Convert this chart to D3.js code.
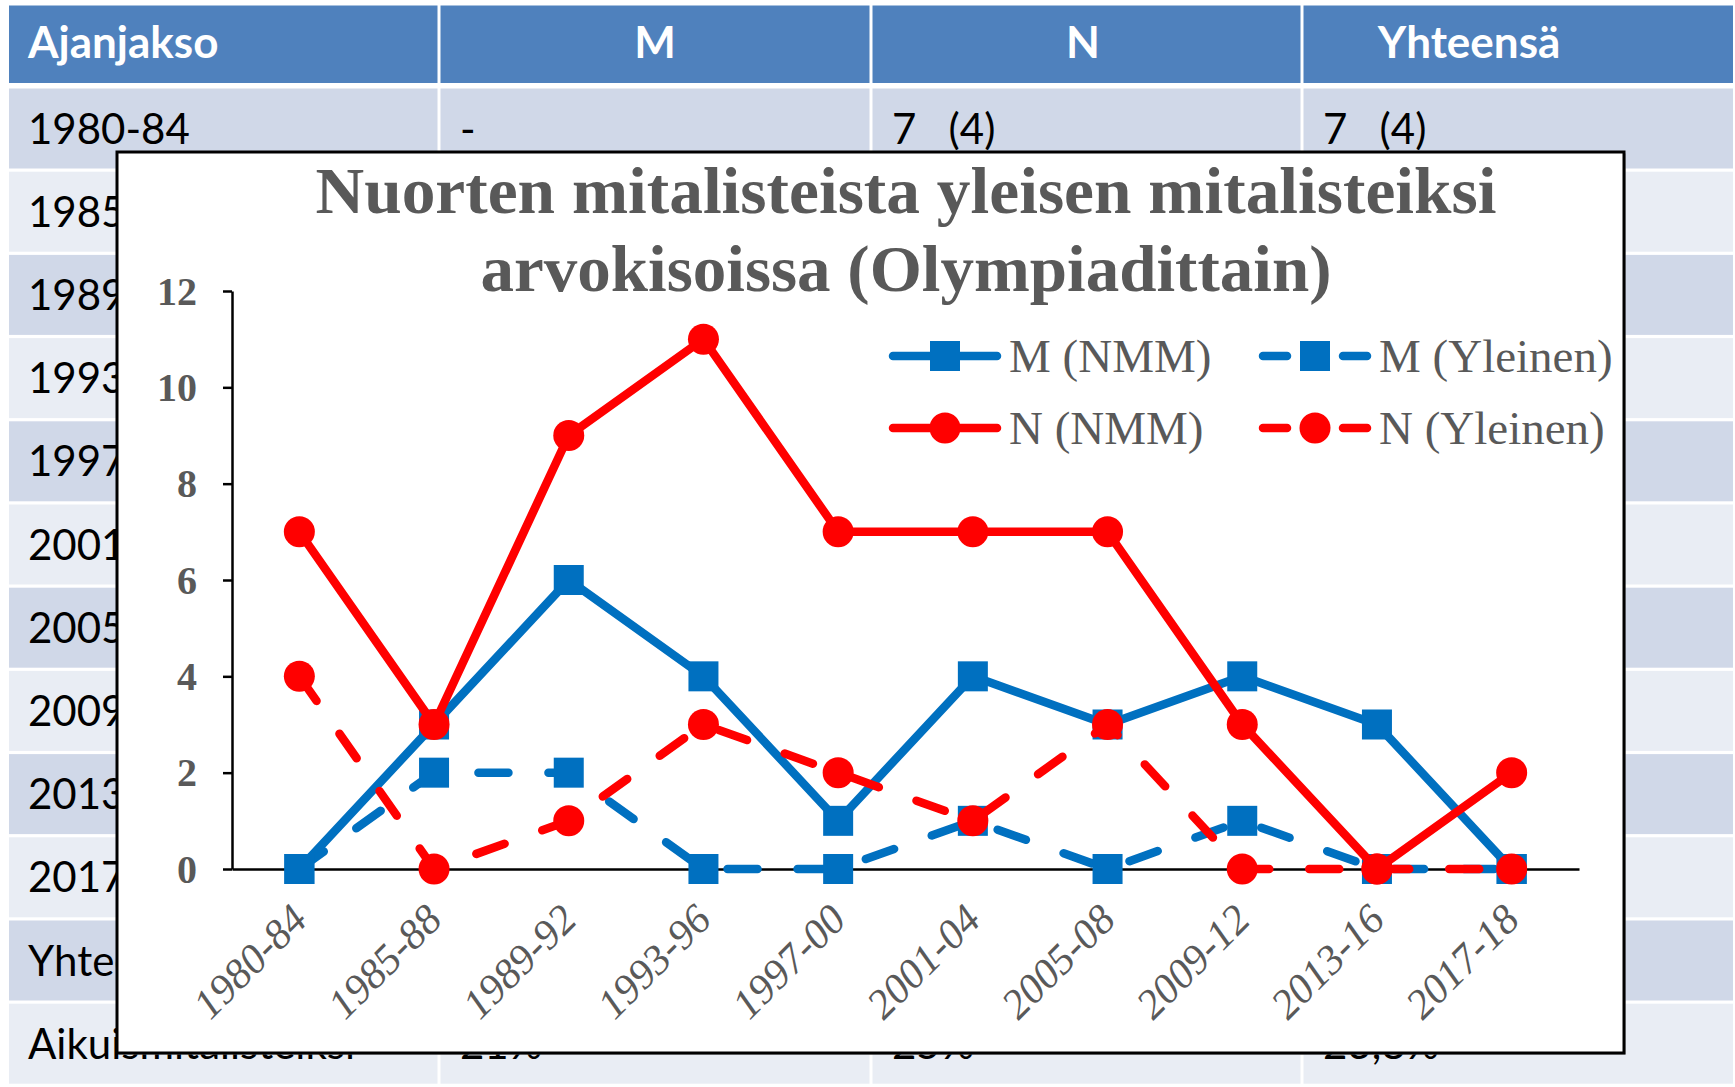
<!DOCTYPE html>
<html>
<head>
<meta charset="utf-8">
<script src="https://cdn.jsdelivr.net/npm/d3@7"></script>
<style>
  html, body { margin: 0; padding: 0; background: #ffffff; }
  svg { display: block; }
  text { white-space: pre; }
</style>
</head>
<body>
<svg id="chart" width="1735" height="1087"></svg>
<script>
// ---------- data ----------
const categories = ["1980-84","1985-88","1989-92","1993-96","1997-00","2001-04","2005-08","2009-12","2013-16","2017-18"];
const mNMM      = [0, 3, 6, 4, 1, 4, 3, 4, 3, 0];
const mYleinen  = [0, 2, 2, 0, 0, 1, 0, 1, 0, 0];
const nNMM      = [7, 3, 9, 11, 7, 7, 7, 3, 0, 2];
const nYleinen  = [4, 0, 1, 3, 2, 1, 3, 0, 0, 0];
const seriesNames = ["M (NMM)", "M (Yleinen)", "N (NMM)", "N (Yleinen)"];
const yTicks = [0, 2, 4, 6, 8, 10, 12];
const titleLines = ["Nuorten mitalisteista yleisen mitalisteiksi", "arvokisoissa (Olympiadittain)"];

// background table (slide behind the chart)
const tableHeader = ["Ajanjakso", "M", "N", "Yhteensä"];
const tableFirstCol = ["1980-84","1985-88","1989-92","1993-96","1997-00","2001-04","2005-08","2009-12","2013-16","2017-18","Yhteensä","Aikuismitalisteiksi"];
const tableRow1 = ["-", "7   (4)", "7   (4)"];
const tableLastRow = ["21%", "25%", "23,8%"];

// ---------- drawing ----------
const svg = d3.select("#chart");
svg.append("rect").attr("width", 1735).attr("height", 1087).attr("fill", "#ffffff");

// table
const colX = [9, 439, 871, 1302, 1733];
const headerCenters = [null, 655, 1083, 1469];
const tbl = svg.append("g");
const headerTop = 5.5, headerBottom = 83;
const tableFont = "Lato, 'Open Sans', sans-serif";
for (let c = 0; c < 4; c++) {
  tbl.append("rect")
    .attr("x", colX[c] + (c ? 1.5 : 0)).attr("y", headerTop)
    .attr("width", colX[c+1] - colX[c] - (c ? 1.5 : 0) - (c < 3 ? 1.5 : 0))
    .attr("height", headerBottom - headerTop)
    .attr("fill", "#4F81BD");
}
const rowTop0 = 88.5, rowPitch = 83.2, rowH = 80;
tableFirstCol.forEach((lab, i) => {
  const yy = rowTop0 + i * rowPitch;
  for (let c = 0; c < 4; c++) {
    tbl.append("rect")
      .attr("x", colX[c] + (c ? 1.5 : 0)).attr("y", yy)
      .attr("width", colX[c+1] - colX[c] - (c ? 1.5 : 0) - (c < 3 ? 1.5 : 0))
      .attr("height", rowH)
      .attr("fill", i % 2 === 0 ? "#D0D8E8" : "#E9EDF4");
  }
  tbl.append("text").attr("x", 28).attr("y", yy + 55)
    .attr("font-family", tableFont).attr("font-size", 42)
    .attr("fill", "#000").text(lab);
});
tableHeader.forEach((h, c) => {
  const t = tbl.append("text")
    .attr("y", 58)
    .attr("font-family", tableFont).attr("font-weight", "bold")
    .attr("font-size", 44).attr("fill", "#ffffff").text(h);
  if (c === 0) t.attr("x", 28);
  else t.attr("x", headerCenters[c]).attr("text-anchor", "middle");
});
tableRow1.forEach((v, c) => {
  tbl.append("text").attr("x", colX[c+1] + 21).attr("y", rowTop0 + 55)
    .attr("font-family", tableFont).attr("font-size", 42)
    .attr("fill", "#000").text(v);
});
tableLastRow.forEach((v, c) => {
  tbl.append("text").attr("x", colX[c+1] + 21).attr("y", rowTop0 + 11 * rowPitch + 55)
    .attr("font-family", tableFont).attr("font-size", 42)
    .attr("fill", "#000").text(v);
});

// chart box
const box = {x: 117, y: 152, w: 1507, h: 901};
svg.append("rect").attr("x", box.x + 1.5).attr("y", box.y + 1.5).attr("width", box.w).attr("height", box.h)
  .attr("fill", "#8c8c8c");
svg.append("rect").attr("x", box.x).attr("y", box.y).attr("width", box.w).attr("height", box.h)
  .attr("fill", "#ffffff").attr("stroke", "#000").attr("stroke-width", 3);

// title
const titleFont = "'Liberation Serif', 'Times New Roman', serif";
const titleSpecs = [{y: 213, len: 1181}, {y: 291, len: 851}];
titleLines.forEach((t, i) => {
  svg.append("text").attr("x", 906).attr("y", titleSpecs[i].y)
    .attr("text-anchor", "middle")
    .attr("font-family", titleFont).attr("font-weight", "bold").attr("font-size", 66)
    .attr("fill", "#595959")
    .attr("textLength", titleSpecs[i].len).attr("lengthAdjust", "spacingAndGlyphs")
    .text(t);
});

// scales
const x = d3.scaleBand().domain(categories).range([232, 1579]);
const cx = d => x(d) + x.bandwidth() / 2;
const y = d3.scaleLinear().domain([0, 12]).range([869, 291]);

// y axis
const yAxis = svg.append("g").attr("transform", "translate(232,0)")
  .call(d3.axisLeft(y).tickValues(yTicks).tickSize(9).tickSizeOuter(0).tickFormat(d3.format("d")));
yAxis.select(".domain").attr("stroke", "#000").attr("stroke-width", 2.5);
yAxis.selectAll(".tick line").attr("stroke", "#000").attr("stroke-width", 2.5);
yAxis.selectAll(".tick text")
  .attr("x", -35).attr("dy", "0.33em")
  .attr("font-family", titleFont).attr("font-weight", "bold").attr("font-size", 40)
  .attr("fill", "#595959");

// x axis
const xAxis = svg.append("g").attr("transform", "translate(0,869)")
  .call(d3.axisBottom(x).tickSize(0).tickSizeOuter(0));
xAxis.select(".domain").attr("stroke", "#000").attr("stroke-width", 2.5);
xAxis.selectAll(".tick text")
  .attr("x", 0).attr("y", 0).attr("dy", 0)
  .attr("text-anchor", "end")
  .attr("transform", "translate(10,53) rotate(-45)")
  .attr("font-family", titleFont).attr("font-style", "italic").attr("font-size", 42)
  .attr("fill", "#595959");

// series
const BLUE = "#0070C0", RED = "#FF0000";
const LW = 8.5;
const series = [
  {name: seriesNames[0], vals: mNMM,     color: BLUE, dash: null,    marker: "square"},
  {name: seriesNames[1], vals: mYleinen, color: BLUE, dash: "30,40", marker: "square"},
  {name: seriesNames[2], vals: nNMM,     color: RED,  dash: null,    marker: "circle"},
  {name: seriesNames[3], vals: nYleinen, color: RED,  dash: "30,40", marker: "circle"}
];
const line = d3.line().x((d, i) => cx(categories[i])).y(d => y(d));
const MS = 30, MR = 15.5;
function drawMarker(g, type, px, py, color) {
  if (type === "square") {
    g.append("rect").attr("x", px - MS / 2).attr("y", py - MS / 2)
      .attr("width", MS).attr("height", MS).attr("fill", color);
  } else {
    g.append("circle").attr("cx", px).attr("cy", py).attr("r", MR).attr("fill", color);
  }
}
series.forEach(s => {
  const g = svg.append("g");
  g.append("path").datum(s.vals).attr("d", line)
    .attr("fill", "none").attr("stroke", s.color).attr("stroke-width", LW)
    .attr("stroke-linejoin", "round").attr("stroke-linecap", "round")
    .attr("stroke-dasharray", s.dash);
  s.vals.forEach((v, i) => drawMarker(g, s.marker, cx(categories[i]), y(v), s.color));
});

// legend
const legendItems = [
  {s: series[0], x1: 889,  y: 356},
  {s: series[1], x1: 1259, y: 356},
  {s: series[2], x1: 889,  y: 428},
  {s: series[3], x1: 1259, y: 428}
];
legendItems.forEach(it => {
  const g = svg.append("g");
  const x1 = it.x1 + 4, x2 = it.x1 + 108, mid = it.x1 + 56;
  if (it.s.dash) {
    g.append("line").attr("x1", x1).attr("x2", x1 + 24).attr("y1", it.y).attr("y2", it.y)
      .attr("stroke", it.s.color).attr("stroke-width", LW).attr("stroke-linecap", "round");
    g.append("line").attr("x1", x2 - 24).attr("x2", x2).attr("y1", it.y).attr("y2", it.y)
      .attr("stroke", it.s.color).attr("stroke-width", LW).attr("stroke-linecap", "round");
  } else {
    g.append("line").attr("x1", x1).attr("x2", x2).attr("y1", it.y).attr("y2", it.y)
      .attr("stroke", it.s.color).attr("stroke-width", LW).attr("stroke-linecap", "round");
  }
  drawMarker(g, it.s.marker, mid, it.y, it.s.color);
  g.append("text").attr("x", it.x1 + 120).attr("y", it.y + 16)
    .attr("font-family", titleFont).attr("font-size", 47).attr("fill", "#595959")
    .text(it.s.name);
});
</script>
</body>
</html>
